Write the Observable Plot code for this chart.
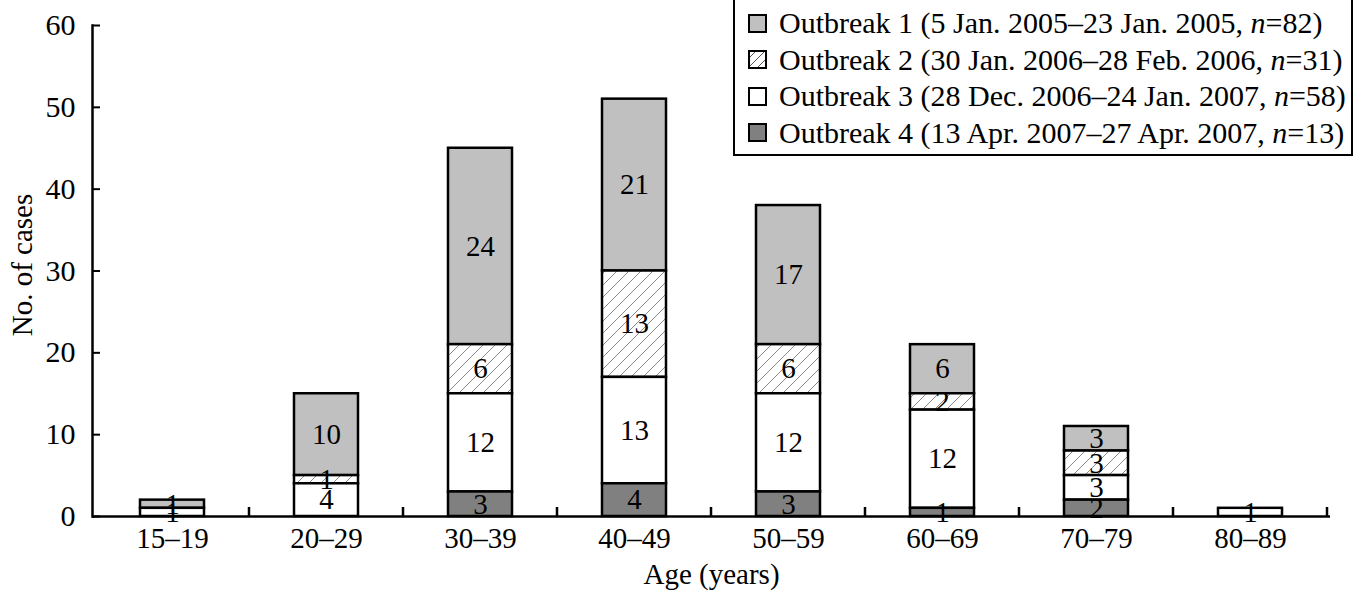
<!DOCTYPE html>
<html>
<head>
<meta charset="utf-8">
<script src="https://cdn.jsdelivr.net/npm/d3@7"></script>
<script src="https://cdn.jsdelivr.net/npm/@observablehq/plot@0.6"></script>
<style>
  body { margin: 0; background: #fff; }
  #wrap { position: relative; width: 1356px; height: 601px; font-family: "Liberation Serif", "Times New Roman", serif; }
  #legend { position: absolute; left: 733px; top: -2px; width: 620px; height: 158px; box-sizing: border-box;
    border: 2.5px solid #000; background: #fff; padding: 5px 0 0 13px; }
  .row { display: flex; align-items: center; height: 36.5px; font-size: 30px; line-height: 36px; color: #000; white-space: nowrap; }
  .sw { width: 19px; height: 19px; margin-right: 12px; flex: none; }
</style>
</head>
<body>
<div id="wrap">
  <div id="chart"></div>
  <div id="legend"></div>
</div>
<script>
const ages = ["15–19", "20–29", "30–39", "40–49", "50–59", "60–69", "70–79", "80–89"];
const series = ["Outbreak 1", "Outbreak 2", "Outbreak 3", "Outbreak 4"];
const outbreak1 = [1, 10, 24, 21, 17, 6, 3, 0];
const outbreak2 = [0, 1, 6, 13, 6, 2, 3, 0];
const outbreak3 = [1, 4, 12, 13, 12, 12, 3, 1];
const outbreak4 = [0, 0, 3, 4, 3, 1, 2, 0];
const legendPeriods = ["(5 Jan. 2005–23 Jan. 2005, ", "(30 Jan. 2006–28 Feb. 2006, ", "(28 Dec. 2006–24 Jan. 2007, ", "(13 Apr. 2007–27 Apr. 2007, "];
const legendN = [82, 31, 58, 13];
const fills = ["#c0c0c0", "url(#hatch)", "#ffffff", "#808080"];
const yTicks = [0, 10, 20, 30, 40, 50, 60];
const stackOrder = ["Outbreak 4", "Outbreak 3", "Outbreak 2", "Outbreak 1"];

const values = [outbreak1, outbreak2, outbreak3, outbreak4];
const data = series.flatMap((s, i) => ages.map((a, j) => ({age: a, series: s, value: values[i][j]})))
  .filter(d => d.value > 0);

const FS = 29;
const plot = Plot.plot({
  width: 1356, height: 601,
  marginTop: 25, marginBottom: 85, marginLeft: 92, marginRight: 26,
  style: {fontFamily: "'Liberation Serif', 'Times New Roman', serif", fontSize: FS + "px", color: "#000", background: "#fff", overflow: "visible"},
  x: {domain: ages, paddingInner: 0.586, paddingOuter: 0.293, label: null},
  y: {domain: [0, 60], label: null},
  color: {domain: series, range: fills},
  marks: [
    Plot.barY(data, Plot.stackY({x: "age", y: "value", z: "series", order: stackOrder, fill: "series", stroke: "#000", strokeWidth: 2.5})),
    Plot.textY(data, Plot.stackY({x: "age", y: "value", z: "series", order: stackOrder, text: "value", fontSize: FS, fill: "#000"})),
    Plot.ruleY([0], {strokeWidth: 2.5}),
    Plot.axisY({ticks: yTicks, tickSize: -8, tickPadding: 25, tickFormat: d => d, fontSize: FS + 1, strokeWidth: 2, label: null}),
    Plot.axisX({tickSize: 0, tickPadding: 11, fontSize: FS, label: null}),
    Plot.frame({anchor: "left", strokeWidth: 2.5}),
    Plot.text(["Age (years)"], {frameAnchor: "bottom", dy: 67, fontSize: FS}),
    Plot.text(["No. of cases"], {frameAnchor: "left", dx: -70, dy: -6, rotate: -90, textAnchor: "middle", fontSize: FS})
  ]
});

const svg = d3.select(plot);
svg.insert("defs", ":first-child").html(
  '<pattern id="hatch" patternUnits="userSpaceOnUse" width="12" height="12">' +
  '<rect width="12" height="12" fill="#fff"/>' +
  '<path d="M-3,3L3,-3M0,12L12,0M9,15L15,9" stroke="#8a8a8a" stroke-width="1"/></pattern>');

// boundary ticks on the x axis (pointing up), positioned with the x scale
const xs = plot.scale("x"), ys = plot.scale("y");
const y0 = ys.apply(0);
svg.append("g").attr("stroke", "#000").attr("stroke-width", 2.5)
  .selectAll("line").data(ages).join("line")
  .attr("x1", d => xs.apply(d) + xs.bandwidth + (xs.step - xs.bandwidth) / 2)
  .attr("x2", d => xs.apply(d) + xs.bandwidth + (xs.step - xs.bandwidth) / 2)
  .attr("y1", y0).attr("y2", y0 - 9);

document.getElementById("chart").appendChild(plot);

// legend
const legend = d3.select("#legend");
series.forEach((s, i) => {
  const row = legend.append("div").attr("class", "row");
  const sw = row.append("svg").attr("class", "sw").attr("width", 19).attr("height", 19);
  if (i === 1) {
    sw.append("defs").html('<pattern id="hatchL" patternUnits="userSpaceOnUse" width="9" height="9"><rect width="9" height="9" fill="#fff"/><path d="M-2,2L2,-2M0,9L9,0M7,11L11,7" stroke="#555" stroke-width="1"/></pattern>');
  }
  sw.append("rect").attr("x", 1).attr("y", 1).attr("width", 17).attr("height", 17)
    .attr("fill", i === 1 ? "url(#hatchL)" : fills[i]).attr("stroke", "#000").attr("stroke-width", 2);
  const t = row.append("span");
  t.append("span").text(s + " " + legendPeriods[i]);
  t.append("i").text("n");
  t.append("span").text("=" + legendN[i] + ")");
});
</script>
</body>
</html>
